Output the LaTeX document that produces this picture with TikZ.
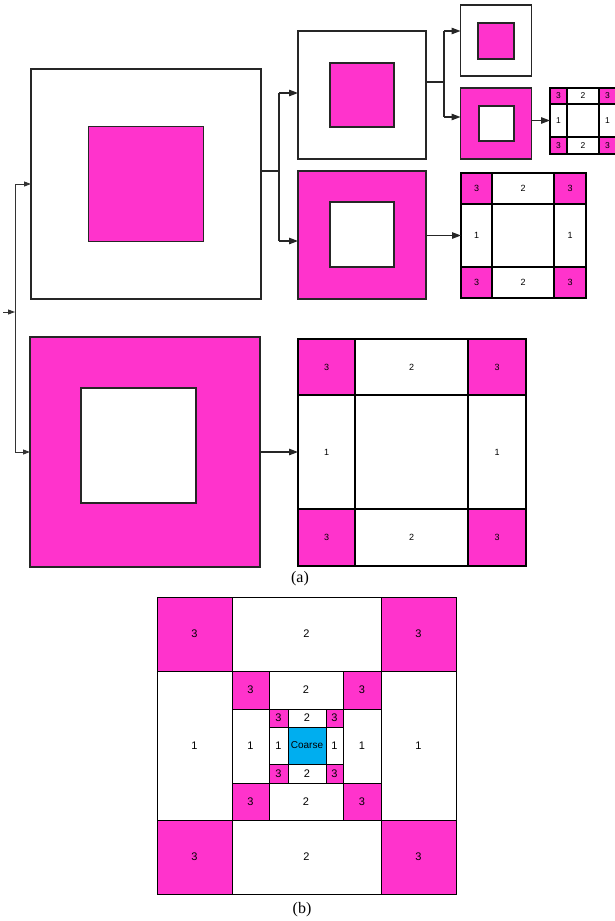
\documentclass[tikz,border=0pt]{standalone}
\usepackage{fontspec}
\setmainfont{Liberation Sans}
\newfontfamily\capfont{Liberation Serif}
\usetikzlibrary{arrows.meta}
\definecolor{mag}{HTML}{FF33CC}
\definecolor{coarsecol}{HTML}{00AEEF}
\newcommand\cellbox[7]{%
  \node[gcell,fill=#6,minimum width={(#4-#2)*1pt},minimum height={(#5-#3)*1pt}] (#1) at ({(#2+#4)/2},{(#3+#5)/2}) {#7};}
\newcommand\ringgrid[9]{%
  \cellbox{#1-tl}{#2}{#6}{#3}{#7}{mag}{3}
  \cellbox{#1-t}{#3}{#6}{#4}{#7}{white}{2}
  \cellbox{#1-tr}{#4}{#6}{#5}{#7}{mag}{3}
  \cellbox{#1-l}{#2}{#7}{#3}{#8}{white}{1}
  \cellbox{#1-c}{#3}{#7}{#4}{#8}{white}{}
  \cellbox{#1-r}{#4}{#7}{#5}{#8}{white}{1}
  \cellbox{#1-bl}{#2}{#8}{#3}{#9}{mag}{3}
  \cellbox{#1-b}{#3}{#8}{#4}{#9}{white}{2}
  \cellbox{#1-br}{#4}{#8}{#5}{#9}{mag}{3}}
\tikzset{
  sq/.style={draw=black!85,rectangle,inner sep=0pt,outer sep=0pt},
  gcell/.style={draw=black,rectangle,inner sep=0pt,outer sep=0pt},
  ln/.style={draw=black!85,line width=1.2pt},
  arr/.style={ln,-{Triangle[length=9pt,width=6.5pt]}},
  arrthin/.style={draw=black!80,line width=0.9pt,-{Triangle[length=7pt,width=5pt]}}
}
\begin{document}
\begin{tikzpicture}[x=1pt,y=-1pt]
\useasboundingbox (0,0) rectangle (615,921);
% ---------- (a) ----------
\node[sq,fill=white,line width=1.2pt,minimum size=230pt] (A1) at (146,184) {};
\node[sq,fill=mag,line width=1pt,minimum size=115pt] (A1i) at (145.5,183.5) {};
\node[sq,fill=mag,line width=1.2pt,minimum size=230pt] (A2) at (145,452) {};
\node[sq,fill=white,line width=1.2pt,minimum size=115pt] (A2i) at (138.5,445.5) {};

\node[sq,fill=white,line width=1.3pt,minimum size=128pt] (B1) at (362,95) {};
\node[sq,fill=mag,line width=1.2pt,minimum size=64pt] (B1i) at (362,95) {};
\node[sq,fill=mag,line width=1.5pt,minimum size=128pt] (B2) at (362,235) {};
\node[sq,fill=white,line width=1.5pt,minimum width=64pt,minimum height=65pt] (B2i) at (362,234.5) {};

\node[sq,fill=white,line width=1.6pt,minimum size=71pt] (C1) at (496,40.5) {};
\node[sq,fill=mag,line width=1.5pt,minimum size=36pt] (C1i) at (496,41) {};
\node[sq,fill=mag,line width=1.6pt,minimum size=71pt] (C2) at (496,123.5) {};
\node[sq,fill=white,line width=1.5pt,minimum size=35pt] (C2i) at (496.5,123.5) {};

\begin{scope}[gcell/.append style={line width=1.6pt,font=\fontsize{9}{10}\selectfont}]
\ringgrid{G1}{298}{355}{468}{526}{339}{395}{509}{566}
\end{scope}
\begin{scope}[gcell/.append style={line width=1.7pt,font=\fontsize{9}{10}\selectfont}]
\ringgrid{G2}{461}{492}{554}{586}{173}{204}{267}{298}
\end{scope}
\begin{scope}[gcell/.append style={line width=1.4pt,font=\fontsize{8.5}{9}\selectfont}]
\ringgrid{G3}{550}{567}{599}{616}{88}{104}{137}{154}
\end{scope}

% connectors
\coordinate (in) at (3,312);
\coordinate (v1) at (15,312);
\coordinate (v1t) at (15,184);
\coordinate (v1b) at (15,452);
\draw[arrthin] (in) -- (v1);
\draw[draw=black!80,line width=0.9pt] (v1t) -- (v1b);
\draw[arrthin] (v1t) -- (A1.west |- v1t);
\draw[arrthin] (v1b) -- (A2.west |- v1b);

\coordinate (j1) at (279,171);
\coordinate (j1t) at (279,93);
\coordinate (j1b) at (279,241);
\draw[ln] (A1.east |- j1) -- (j1);
\draw[ln] (j1t) -- (j1b);
\draw[arr] (j1t) -- (B1.west |- j1t);
\draw[arr] (j1b) -- (B2.west |- j1b);

\coordinate (j2) at (444,82);
\coordinate (j2t) at (444,31);
\coordinate (j2b) at (444,117);
\draw[ln] (B1.east |- j2) -- (j2);
\draw[ln] (j2t) -- (j2b);
\draw[arr] (j2t) -- (C1.west |- j2t);
\draw[arr] (j2b) -- (C2.west |- j2b);

\draw[arr] (A2.east) -- (G1-l.west);
\draw[arr] (B2.east |- G2-l.west) -- (G2-l.west);
\draw[arr] (C2.east |- G3-l.west) -- (G3-l.west);

\node[font=\capfont\fontsize{16}{18}\selectfont] (capa) at (300,579) {(a)};

% ---------- (b) ----------
\begin{scope}[gcell/.append style={line width=0.8pt,font=\fontsize{11}{12}\selectfont}]
\ringgrid{R1}{157}{232}{381}{456}{597}{671}{820}{894}
\ringgrid{R2}{232}{269}{343}{381}{671}{709}{783}{820}
\ringgrid{R3}{269}{288}{326}{343}{709}{727}{764}{783}
\cellbox{coarse}{288}{727}{326}{764}{coarsecol}{\fontsize{10}{11}\selectfont Coarse}
\end{scope}
\node[font=\capfont\fontsize{16}{18}\selectfont] (capb) at (302,910) {(b)};
\end{tikzpicture}
\end{document}
